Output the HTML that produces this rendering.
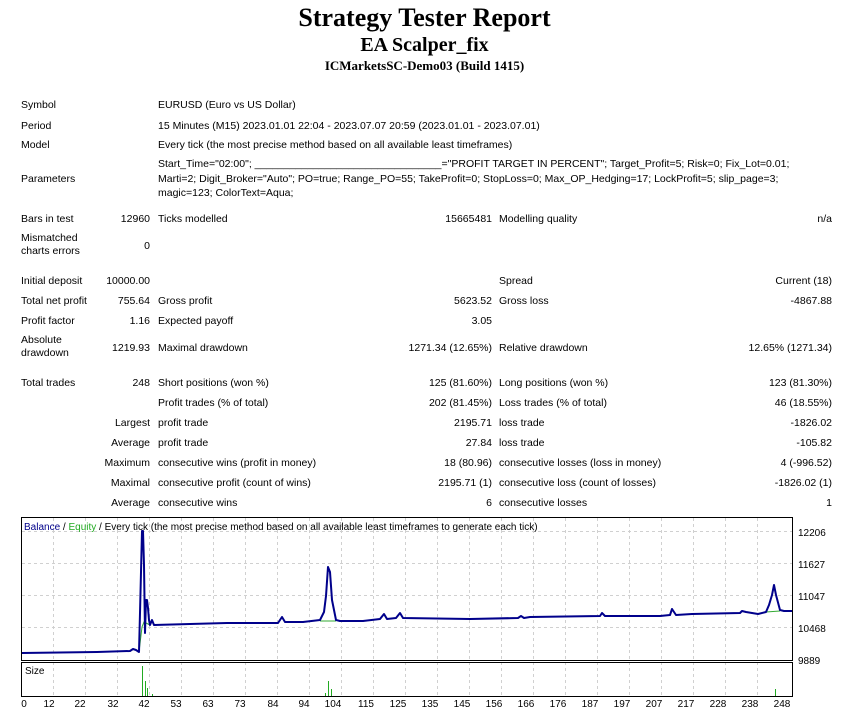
<!DOCTYPE html>
<html><head><meta charset="utf-8"><style>
body{margin:0;width:849px;height:717px;background:#fff;position:relative;overflow:hidden;font-family:"Liberation Sans",sans-serif;font-size:10.5px;color:#000}
.t{position:absolute;white-space:nowrap;line-height:14px}
.r{text-align:right}
.h{position:absolute;left:0;width:849px;text-align:center;font-family:"Liberation Serif",serif;font-weight:bold;white-space:nowrap}
</style></head><body>
<div class="h" style="top:3px;font-size:26px;line-height:30px">Strategy Tester Report</div>
<div class="h" style="top:33px;font-size:20px;line-height:24px">EA Scalper_fix</div>
<div class="h" style="top:58px;font-size:13px;line-height:16px">ICMarketsSC-Demo03 (Build 1415)</div>

<div class="t" style="left:21px;top:98px">Symbol</div><div class="t" style="left:158px;top:98px">EURUSD (Euro vs US Dollar)</div>
<div class="t" style="left:21px;top:119px">Period</div><div class="t" style="left:158px;top:119px">15 Minutes (M15) 2023.01.01 22:04 - 2023.07.07 20:59 (2023.01.01 - 2023.07.01)</div>
<div class="t" style="left:21px;top:138px">Model</div><div class="t" style="left:158px;top:138px">Every tick (the most precise method based on all available least timeframes)</div>
<div class="t" style="left:21px;top:172px">Parameters</div>
<div class="t" style="left:158px;top:157px">Start_Time="02:00"; ________________________________="PROFIT TARGET IN PERCENT"; Target_Profit=5; Risk=0; Fix_Lot=0.01;</div>
<div class="t" style="left:158px;top:172px">Marti=2; Digit_Broker="Auto"; PO=true; Range_PO=55; TakeProfit=0; StopLoss=0; Max_OP_Hedging=17; LockProfit=5; slip_page=3;</div>
<div class="t" style="left:158px;top:186px">magic=123; ColorText=Aqua;</div>

<div class="t" style="left:21px;top:212px">Bars in test</div><div class="t r" style="right:699px;top:212px">12960</div><div class="t" style="left:158px;top:212px">Ticks modelled</div><div class="t r" style="right:357px;top:212px">15665481</div><div class="t" style="left:499px;top:212px">Modelling quality</div><div class="t r" style="right:17px;top:212px">n/a</div>
<div class="t" style="left:21px;top:232px;line-height:13px">Mismatched<br>charts errors</div><div class="t r" style="right:699px;top:239px">0</div>

<div class="t" style="left:21px;top:274px">Initial deposit</div><div class="t r" style="right:699px;top:274px">10000.00</div><div class="t" style="left:499px;top:274px">Spread</div><div class="t r" style="right:17px;top:274px">Current (18)</div>
<div class="t" style="left:21px;top:294px">Total net profit</div><div class="t r" style="right:699px;top:294px">755.64</div><div class="t" style="left:158px;top:294px">Gross profit</div><div class="t r" style="right:357px;top:294px">5623.52</div><div class="t" style="left:499px;top:294px">Gross loss</div><div class="t r" style="right:17px;top:294px">-4867.88</div>
<div class="t" style="left:21px;top:314px">Profit factor</div><div class="t r" style="right:699px;top:314px">1.16</div><div class="t" style="left:158px;top:314px">Expected payoff</div><div class="t r" style="right:357px;top:314px">3.05</div>
<div class="t" style="left:21px;top:334px;line-height:13px">Absolute<br>drawdown</div><div class="t r" style="right:699px;top:341px">1219.93</div><div class="t" style="left:158px;top:341px">Maximal drawdown</div><div class="t r" style="right:357px;top:341px">1271.34 (12.65%)</div><div class="t" style="left:499px;top:341px">Relative drawdown</div><div class="t r" style="right:17px;top:341px">12.65% (1271.34)</div>

<div class="t" style="left:21px;top:376px">Total trades</div><div class="t r" style="right:699px;top:376px">248</div><div class="t" style="left:158px;top:376px">Short positions (won %)</div><div class="t r" style="right:357px;top:376px">125 (81.60%)</div><div class="t" style="left:499px;top:376px">Long positions (won %)</div><div class="t r" style="right:17px;top:376px">123 (81.30%)</div>
<div class="t" style="left:158px;top:396px">Profit trades (% of total)</div><div class="t r" style="right:357px;top:396px">202 (81.45%)</div><div class="t" style="left:499px;top:396px">Loss trades (% of total)</div><div class="t r" style="right:17px;top:396px">46 (18.55%)</div>
<div class="t r" style="right:699px;top:416px">Largest</div><div class="t" style="left:158px;top:416px">profit trade</div><div class="t r" style="right:357px;top:416px">2195.71</div><div class="t" style="left:499px;top:416px">loss trade</div><div class="t r" style="right:17px;top:416px">-1826.02</div>
<div class="t r" style="right:699px;top:436px">Average</div><div class="t" style="left:158px;top:436px">profit trade</div><div class="t r" style="right:357px;top:436px">27.84</div><div class="t" style="left:499px;top:436px">loss trade</div><div class="t r" style="right:17px;top:436px">-105.82</div>
<div class="t r" style="right:699px;top:456px">Maximum</div><div class="t" style="left:158px;top:456px">consecutive wins (profit in money)</div><div class="t r" style="right:357px;top:456px">18 (80.96)</div><div class="t" style="left:499px;top:456px">consecutive losses (loss in money)</div><div class="t r" style="right:17px;top:456px">4 (-996.52)</div>
<div class="t r" style="right:699px;top:476px">Maximal</div><div class="t" style="left:158px;top:476px">consecutive profit (count of wins)</div><div class="t r" style="right:357px;top:476px">2195.71 (1)</div><div class="t" style="left:499px;top:476px">consecutive loss (count of losses)</div><div class="t r" style="right:17px;top:476px">-1826.02 (1)</div>
<div class="t r" style="right:699px;top:496px">Average</div><div class="t" style="left:158px;top:496px">consecutive wins</div><div class="t r" style="right:357px;top:496px">6</div><div class="t" style="left:499px;top:496px">consecutive losses</div><div class="t r" style="right:17px;top:496px">1</div>

<svg style="position:absolute;left:0;top:0" width="849" height="717" font-family="Liberation Sans, sans-serif" font-size="10">
<g stroke="#d0d0d0" stroke-dasharray="3,3" stroke-width="1">
<line x1="22" y1="531.5" x2="792" y2="531.5"/><line x1="22" y1="563.5" x2="792" y2="563.5"/><line x1="22" y1="595.5" x2="792" y2="595.5"/><line x1="22" y1="627.5" x2="792" y2="627.5"/>
<line x1="53.5" y1="518" x2="53.5" y2="696"/><line x1="85.5" y1="518" x2="85.5" y2="696"/><line x1="117.5" y1="518" x2="117.5" y2="696"/><line x1="149.5" y1="518" x2="149.5" y2="696"/><line x1="181.5" y1="518" x2="181.5" y2="696"/><line x1="213.5" y1="518" x2="213.5" y2="696"/><line x1="245.5" y1="518" x2="245.5" y2="696"/><line x1="277.5" y1="518" x2="277.5" y2="696"/><line x1="309.5" y1="518" x2="309.5" y2="696"/><line x1="341.5" y1="518" x2="341.5" y2="696"/><line x1="373.5" y1="518" x2="373.5" y2="696"/><line x1="405.5" y1="518" x2="405.5" y2="696"/><line x1="437.5" y1="518" x2="437.5" y2="696"/><line x1="469.5" y1="518" x2="469.5" y2="696"/><line x1="501.5" y1="518" x2="501.5" y2="696"/><line x1="533.5" y1="518" x2="533.5" y2="696"/><line x1="565.5" y1="518" x2="565.5" y2="696"/><line x1="597.5" y1="518" x2="597.5" y2="696"/><line x1="629.5" y1="518" x2="629.5" y2="696"/><line x1="661.5" y1="518" x2="661.5" y2="696"/><line x1="693.5" y1="518" x2="693.5" y2="696"/><line x1="725.5" y1="518" x2="725.5" y2="696"/><line x1="757.5" y1="518" x2="757.5" y2="696"/>
</g>
<rect x="21.5" y="517.5" width="771" height="143" fill="none" stroke="#000"/>
<rect x="21.5" y="662.5" width="771" height="34" fill="none" stroke="#000"/>
<g fill="none" stroke="#3a3" stroke-width="1">
<polyline points="139,652 142,627 144,622 150,625"/>
<polyline points="320,621 336,621"/>
<polyline points="766,612 780,611"/>
</g>
<polyline fill="none" stroke="#00008b" stroke-width="2" stroke-linejoin="round" points="22,653 97,652 130,651 133,649 136,650 139,652 140,613 142,531 143,531 144,565 145,633 146,600 147,600 148,608 149,620 150,625 152,620 154,625 190,624 227,623 278,623 282,617 285,622 303,622 320,620 324,612 326,596 328,567 330,572 332,600 336,620 340,621 363,621 380,619 384,614 387,619 396,618 400,613 403,618 470,619 518,618 521,616 524,618 530,617 600,616 602,613 605,616 660,616 670,615 672,609 676,615 692,614 740,613 742,611 746,612 758,614 766,612 769,605 772,595 774,585 776,595 780,610 784,611 792,611"/>
<g stroke="#2a2" stroke-width="1">
<line x1="142.5" y1="696" x2="142.5" y2="666"/><line x1="145.5" y1="696" x2="145.5" y2="681"/><line x1="147.5" y1="696" x2="147.5" y2="688"/><line x1="152.5" y1="696" x2="152.5" y2="694"/>
<line x1="325.5" y1="696" x2="325.5" y2="693"/><line x1="328.5" y1="696" x2="328.5" y2="681"/><line x1="331.5" y1="696" x2="331.5" y2="689"/>
<line x1="775.5" y1="696" x2="775.5" y2="689"/>
</g>
<text x="24" y="530" font-size="10"><tspan fill="#00008b">Balance</tspan> / <tspan fill="#2a2">Equity</tspan> / Every tick (the most precise method based on all available least timeframes to generate each tick)</text>
<text x="25" y="674">Size</text>
<g font-size="10">
<text x="798" y="536">12206</text><text x="798" y="568">11627</text><text x="798" y="600">11047</text><text x="798" y="632">10468</text><text x="798" y="664">9889</text>
</g>
<g font-size="10" text-anchor="middle">
<text x="24" y="707">0</text><text x="49" y="707">12</text><text x="80" y="707">22</text><text x="113" y="707">32</text><text x="144" y="707">42</text><text x="176" y="707">53</text><text x="208" y="707">63</text><text x="240" y="707">73</text><text x="273" y="707">84</text><text x="304" y="707">94</text><text x="333" y="707">104</text><text x="366" y="707">115</text><text x="398" y="707">125</text><text x="430" y="707">135</text><text x="462" y="707">145</text><text x="494" y="707">156</text><text x="526" y="707">166</text><text x="558" y="707">176</text><text x="590" y="707">187</text><text x="622" y="707">197</text><text x="654" y="707">207</text><text x="686" y="707">217</text><text x="718" y="707">228</text><text x="750" y="707">238</text><text x="782" y="707">248</text>
</g>
</svg>
</body></html>
